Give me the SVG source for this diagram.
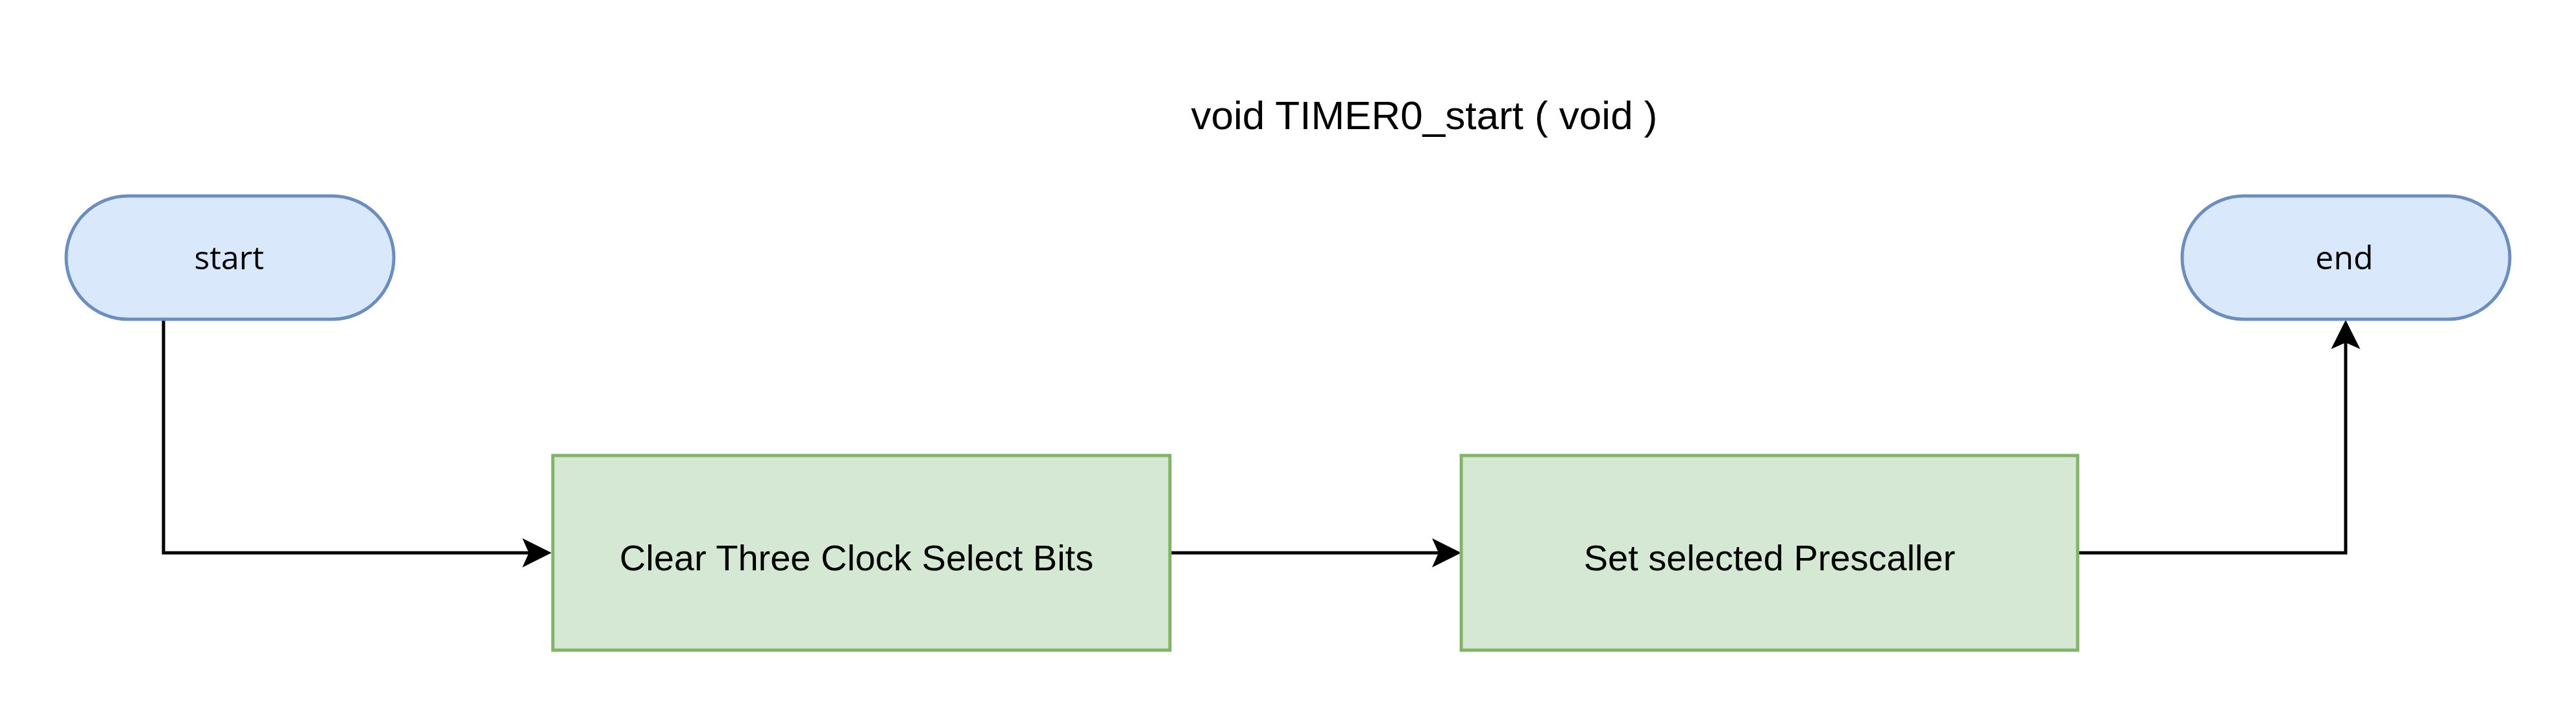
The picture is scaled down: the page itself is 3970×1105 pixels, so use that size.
<svg xmlns="http://www.w3.org/2000/svg" width="3970" height="1105" viewBox="0 0 3970 1105">
<style>
.term{fill:#dae8fc;stroke:#6c8ebf;stroke-width:5}
.proc{fill:#d5e8d4;stroke:#82b366;stroke-width:5}
.tt{font-family:"Open Sans","Noto Sans",sans-serif;font-size:50px;fill:#000;text-anchor:middle}
.pt{font-family:"Liberation Sans",Arial,sans-serif;font-size:56px;fill:#000;text-anchor:middle}
.title{font-family:"Liberation Sans",Arial,sans-serif;font-size:62px;fill:#000;text-anchor:middle}
.edge{fill:none;stroke:#000;stroke-width:5;marker-end:url(#arrow)}
</style>
<defs>
<marker id="arrow" markerUnits="userSpaceOnUse" viewBox="0 0 45 45" refX="10" refY="22.5" markerWidth="45" markerHeight="45" orient="auto">
<path d="M0,0 L45,22.5 L0,45 L10,22.5 Z" fill="#000"/>
</marker>
</defs>
<rect width="3970" height="1105" fill="#fff"/>
<g id="title"><text class="title" x="2195" y="199">void TIMER0_start ( void )</text></g>
<g id="connectors">
<path class="edge" d="M252,492 V852 H815"/>
<path class="edge" d="M1803,852 H2217"/>
<path class="edge" d="M3202,852 H3615 V528"/>
</g>
<g id="start">
<rect class="term" x="102" y="302" width="505" height="190" rx="95" ry="95"/>
<text class="tt" x="353" y="415">start</text>
</g>
<g id="clear">
<rect class="proc" x="852" y="702" width="951" height="300"/>
<text class="pt" x="1320" y="879">Clear Three Clock Select Bits</text>
</g>
<g id="prescaler">
<rect class="proc" x="2252" y="702" width="950" height="300"/>
<text class="pt" x="2727" y="879">Set selected Prescaller</text>
</g>
<g id="end">
<rect class="term" x="3363" y="302" width="505" height="190" rx="95" ry="95"/>
<text class="tt" x="3613" y="415">end</text>
</g>
</svg>
